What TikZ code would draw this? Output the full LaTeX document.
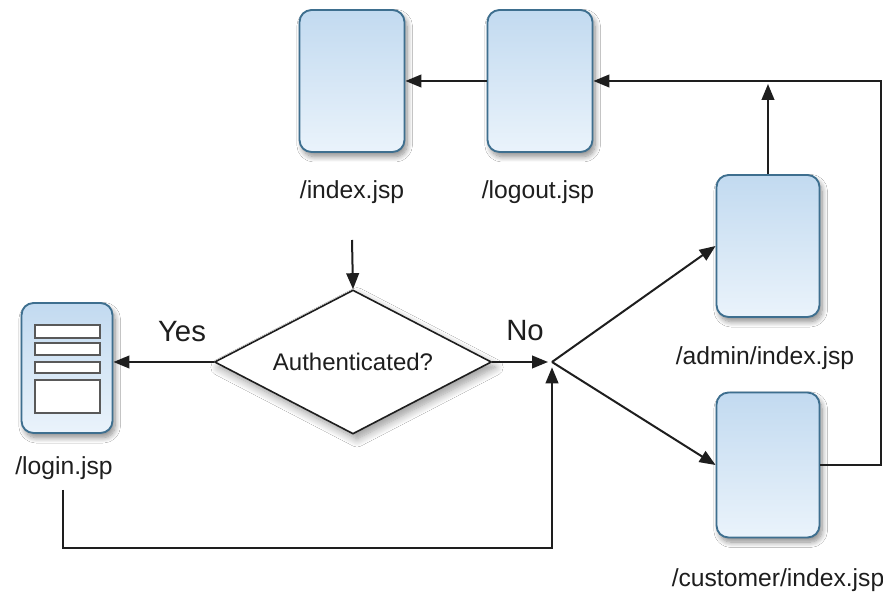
\documentclass[tikz,border=0pt]{standalone}
\usepackage{fontspec}
\setmainfont{Liberation Sans}
\usetikzlibrary{shapes.geometric,arrows.meta,shadows.blur}
\definecolor{boxedge}{HTML}{3E6F8F}
\definecolor{boxtop}{HTML}{C2DAF0}
\definecolor{boxbot}{HTML}{EAF3FB}
\definecolor{inkgray}{HTML}{1E1E1E}
\tikzset{
  page/.style={draw=boxedge, line width=1.4pt, rounded corners=9pt,
    top color=boxtop, bottom color=boxbot, inner sep=0pt,
    blur shadow={shadow xshift=2pt, shadow yshift=-3.5pt,
      shadow blur radius=4pt, shadow blur steps=10, shadow opacity=45}},
  decision/.style={diamond, aspect=2, draw=inkgray, line width=1.2pt, fill=white,
    inner sep=0pt, minimum width=207.75pt, minimum height=108pt,
    blur shadow={shadow xshift=3pt, shadow yshift=-4pt,
      shadow blur radius=6pt, shadow blur steps=10, shadow opacity=40},
    font=\fontsize{18}{20}\selectfont, text=inkgray},
  caption/.style={font=\fontsize{18.5}{20}\selectfont, text=inkgray, inner sep=0pt},
  answer/.style={font=\fontsize{22}{24}\selectfont, text=inkgray, inner sep=0pt},
  link/.style={draw=inkgray, line width=1.5pt,
    -{Triangle[length=12pt,width=9.5pt]}},
  field/.style={draw=gray!70!black, line width=0.9pt, fill=white},
}
\begin{document}
\begin{tikzpicture}[x=0.75pt, y=-0.75pt]
  \fill[white] (0,0) rectangle (883,595);
  \useasboundingbox (0,0) rectangle (883,595);

  % pages
  \node[page, minimum width=78.75pt, minimum height=106.5pt] (index)    at (352,81)  {};
  \node[page, minimum width=78.75pt, minimum height=106.5pt] (logout)   at (540,81)  {};
  \node[page, minimum width=77.25pt, minimum height=106.5pt] (admin)    at (768,246) {};
  \node[page, minimum width=77.25pt, minimum height=108.75pt] (customer) at (768,465) {};
  \node[page, minimum width=68.25pt, minimum height=97.5pt]  (login)    at (67,368)  {};

  % form fields on the login page
  \draw[field] (35,325) rectangle (100,338);
  \draw[field] (35,343) rectangle (100,355);
  \draw[field] (35,362) rectangle (100,373);
  \draw[field] (35,380) rectangle (100,413);

  % captions
  \node[caption] (indexlbl)    at (352,192) {/index.jsp};
  \node[caption] (logoutlbl)   at (538,192) {/logout.jsp};
  \node[caption] (adminlbl)    at (765,358) {/admin/index.jsp};
  \node[caption] (customerlbl) at (778,580) {/customer/index.jsp};
  \node[caption] (loginlbl)    at (64,468)  {/login.jsp};

  % decision
  \node[decision] (auth) at (353,362) {Authenticated?};
  \node[answer] (yes) at (182,332) {Yes};
  \node[answer] (no)  at (525,331) {No};

  % helper points
  \coordinate (join)   at (552,362);
  \coordinate (into)   at (352,240);
  \coordinate (rtop)   at (881,81);
  \coordinate (back0)  at (63,490);
  \coordinate (back1)  at (552,548);
  \coordinate (uptop)  at (768,84);

  % connectors
  \draw[link] (logout.west) -- (index.east);
  \draw[link] (into) -- (auth.north);
  \draw[link] (auth.west) -- (login.east |- auth.west);
  \draw[link, shorten >=3pt] (auth.east) -- (join);
  \draw[link] (join) -- (admin.west);
  \draw[link] (join) -- (customer.west);
  \draw[link] (admin.north) -- (uptop);
  \draw[link] (customer.east) -| (rtop) -- (logout.east);
  \draw[link, shorten >=4pt] (back0) |- (back1) -- (join);
\end{tikzpicture}
\end{document}
